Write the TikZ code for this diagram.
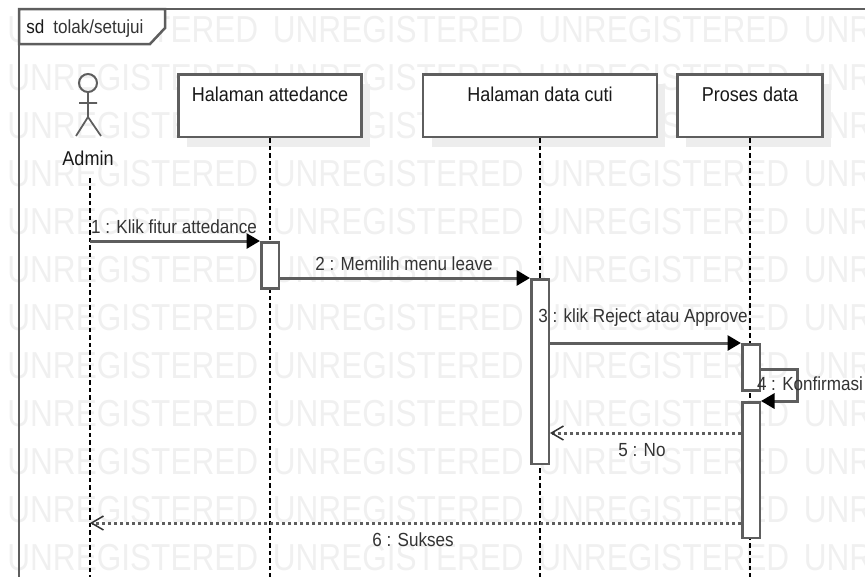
\documentclass[tikz,border=0pt]{standalone}
\usepackage{fontspec}
\setmainfont[FakeStretch=0.9]{Liberation Sans}
\newfontfamily\wmfont[FakeStretch=0.84]{Liberation Sans}
\usetikzlibrary{arrows.meta,shadows}
\definecolor{linegray}{HTML}{5E5E5E}
\definecolor{textgray}{HTML}{333333}
\begin{document}
\begin{tikzpicture}[x=0.02cm,y=0.02cm]
    \tikzstyle{every node}+=[inner sep=0pt,font=\fontsize{11.4}{13}\selectfont]
    \tikzstyle{watermark}=[anchor=west,text=black!6,font=\wmfont\fontsize{21.4}{24}\selectfont]
    \tikzstyle{lifebox}=[draw=linegray,line width=0.05cm,fill=white,anchor=north,text=black!90,text height=0.55cm,text depth=0.71cm,drop shadow={shadow xshift=0.17cm,shadow yshift=-0.2cm,fill=black!7,opacity=1}]
    \tikzstyle{lifeline}=[black,line width=0.03cm,dash pattern=on 0.09cm off 0.06cm]
    \tikzstyle{activation}=[draw=linegray,line width=0.05cm,fill=white,anchor=north west,minimum width=0.35cm]
    \tikzstyle{msg}=[linegray,line width=0.06cm,-{Triangle[color=black,length=0.27cm,width=0.3cm]}]
    \tikzstyle{reply}=[linegray,line width=0.06cm,dash pattern=on 0.07cm off 0.05cm,-{Straight Barb[color=textgray,length=0.24cm,width=0.28cm,line width=0.03cm]}]
    \tikzstyle{msglabel}=[anchor=base,text=textgray,font=\fontsize{10.8}{13}\selectfont]
    \useasboundingbox (0,0) rectangle (865,-576);
    \foreach \r in {0,...,11}
        \foreach \c in {0,...,3}
            \node (wm\r\c) [watermark] at (7+265.5*\c,-30-48*\r) {UNREGISTERED};
    \draw [linegray,line width=0.05cm] (19,-590) -- (19,-9) -- (880,-9);
    \draw [linegray,line width=0.05cm,fill=white] (19,-9) -- (165,-9) -- (165,-28) -- (150,-44) -- (19,-44) -- cycle;
    \draw (26,-33) node (tagsd) [anchor=base west,text=black!90,font=\fontsize{10.8}{13}\selectfont] {sd};
    \draw (53,-33) node (tagname) [anchor=base west,text=textgray,font=\fontsize{10.8}{13}\selectfont] {tolak/setujui};
    \draw (88,-83) node (adminhead) [circle,draw=linegray,line width=0.04cm,minimum size=0.36cm] {};
    \coordinate (adminhip) at (88,-117);
    \coordinate (adminarml) at (79,-103);
    \coordinate (adminarmr) at (97,-103);
    \coordinate (adminlegl) at (76,-136);
    \coordinate (adminlegr) at (101,-136);
    \draw [linegray,line width=0.035cm] (adminhead.south) -- (adminhip) (adminarml) -- (adminarmr) (adminlegl) -- (adminhip) -- (adminlegr);
    \draw (88,-165) node (adminlabel) [anchor=base,text=black!90] {Admin};
    \coordinate (adminstart) at (90,-178);
    \coordinate (adminend) at (90,-590);
    \draw (270,-73) node (attedance) [lifebox,minimum width=3.66cm] {Halaman attedance};
    \draw (540,-73) node (datacuti) [lifebox,minimum width=4.68cm] {Halaman data cuti};
    \draw (750,-73) node (proses) [lifebox,minimum width=2.9cm] {Proses data};
    \coordinate (attedanceend) at (270,-590);
    \coordinate (datacutiend) at (540,-590);
    \coordinate (prosesend) at (750,-590);
    \draw [lifeline] (adminstart) -- (adminend);
    \draw [lifeline] (attedance.south) -- (attedanceend);
    \draw [lifeline] (datacuti.south) -- (datacutiend);
    \draw [lifeline] (proses.south) -- (prosesend);
    \draw (260,-241) node (act1) [activation,minimum height=0.92cm] {};
    \draw (530,-278) node (act2) [activation,minimum height=3.7cm] {};
    \draw (741,-343) node (act3) [activation,minimum height=0.92cm] {};
    \draw (741,-401) node (act4) [activation,minimum height=2.72cm] {};
    \coordinate (m1start) at (90,-241);
    \coordinate (loopa) at (797,-369);
    \coordinate (loopb) at (797,-401);
    \coordinate (noline) at (741,-433);
    \coordinate (suksesline) at (741,-523);
    \draw [msg] (m1start) -- (act1.north west);
    \draw [msg] (act1.east |- act2.north west) -- (act2.north west);
    \draw [msg] (act2.east |- act3.north west) -- (act3.north west);
    \draw [msg] (act3.east |- loopa) -- (loopa) -- (loopb) -- (act4.north east);
    \draw [reply] (act4.west |- noline) -- (act2.east |- noline);
    \draw [reply] (act4.west |- suksesline) -- (adminend |- suksesline);
    \draw (174,-233) node (m1label) [msglabel] {1 : Klik fitur attedance};
    \draw (404,-270) node (m2label) [msglabel] {2 : Memilih menu leave};
    \draw (643,-322) node (m3label) [msglabel] {3 : klik Reject atau Approve};
    \draw (810,-390) node (m4label) [msglabel] {4 : Konfirmasi};
    \draw (642,-456) node (m5label) [msglabel] {5 : No};
    \draw (413,-546) node (m6label) [msglabel] {6 : Sukses};
    \end{tikzpicture}
\end{document}
